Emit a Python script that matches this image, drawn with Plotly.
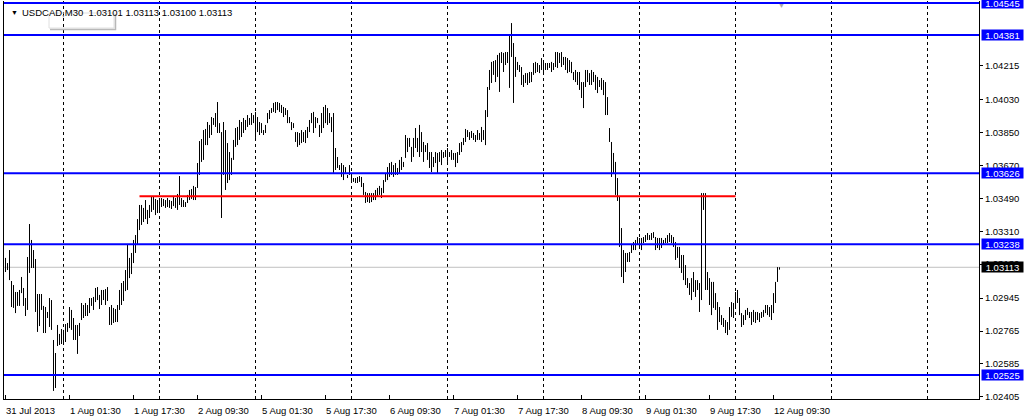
import pandas as pd
import plotly.graph_objects as go

# ---------------- data ----------------
symbol = "USDCAD,M30"
last_ohlc = ["1.03101", "1.03113", "1.03100", "1.03113"]
first_bar = "2013-07-31 09:30"

highs = [
    1.03164, 1.03136, 1.03207, 1.03038, 1.03016, 1.02978, 1.02978, 1.02989, 1.03060, 1.03000,
    1.02945, 1.03169, 1.03349, 1.03262, 1.03207, 1.03158, 1.02967, 1.02967, 1.02967, 1.02902,
    1.02896, 1.02869, 1.02945, 1.02934, 1.02716, 1.02645, 1.02798, 1.02749, 1.02776, 1.02771,
    1.02803, 1.02809, 1.02896, 1.02880, 1.02836, 1.02798, 1.02798, 1.02809, 1.02918, 1.02907,
    1.02918, 1.02907, 1.02945, 1.02945, 1.02951, 1.03000, 1.03005, 1.02962, 1.02989, 1.02989,
    1.02994, 1.03005, 1.02896, 1.02907, 1.02891, 1.02885, 1.02907, 1.02989, 1.03027, 1.03038,
    1.03098, 1.03235, 1.03164, 1.03191, 1.03262, 1.03289, 1.03376, 1.03453, 1.03453, 1.03437,
    1.03480, 1.03426, 1.03453, 1.03497, 1.03497, 1.03486, 1.03480, 1.03475, 1.03491, 1.03486,
    1.03480, 1.03491, 1.03480, 1.03475, 1.03497, 1.03491, 1.03513, 1.03611, 1.03491, 1.03480,
    1.03469, 1.03508, 1.03535, 1.03540, 1.03557, 1.03551, 1.03682, 1.03802, 1.03813, 1.03862,
    1.03868, 1.03906, 1.03890, 1.03933, 1.03928, 1.03955, 1.04015, 1.03900, 1.03851, 1.03906,
    1.03862, 1.03791, 1.03742, 1.03710, 1.03808, 1.03873, 1.03879, 1.03917, 1.03906, 1.03928,
    1.03917, 1.03944, 1.03928, 1.03955, 1.03944, 1.03961, 1.03933, 1.03906, 1.03900, 1.03862,
    1.03890, 1.03955, 1.03971, 1.03982, 1.04010, 1.04015, 1.04015, 1.04010, 1.03999, 1.03988,
    1.03982, 1.03971, 1.03933, 1.03906, 1.03900, 1.03851, 1.03851, 1.03846, 1.03862, 1.03851,
    1.03862, 1.03879, 1.03917, 1.03955, 1.03961, 1.03933, 1.03928, 1.03890, 1.03955, 1.03988,
    1.03999, 1.03982, 1.03955, 1.03933, 1.03955, 1.03764, 1.03715, 1.03671, 1.03682, 1.03671,
    1.03660, 1.03617, 1.03671, 1.03617, 1.03600, 1.03600, 1.03606, 1.03611, 1.03606, 1.03573,
    1.03524, 1.03518, 1.03518, 1.03518, 1.03518, 1.03535, 1.03546, 1.03557, 1.03546, 1.03589,
    1.03628, 1.03660, 1.03682, 1.03688, 1.03671, 1.03682, 1.03655, 1.03699, 1.03715, 1.03688,
    1.03835, 1.03819, 1.03819, 1.03770, 1.03819, 1.03873, 1.03819, 1.03890, 1.03851, 1.03797,
    1.03780, 1.03791, 1.03742, 1.03742, 1.03715, 1.03742, 1.03737, 1.03742, 1.03753, 1.03742,
    1.03753, 1.03764, 1.03742, 1.03753, 1.03737, 1.03737, 1.03742, 1.03791, 1.03797, 1.03819,
    1.03868, 1.03862, 1.03851, 1.03857, 1.03846, 1.03835, 1.03862, 1.03846, 1.03879, 1.03862,
    1.03971, 1.04097, 1.04190, 1.04234, 1.04239, 1.04244, 1.04272, 1.04283, 1.04288, 1.04283,
    1.04288, 1.04288, 1.04381, 1.04446, 1.04337, 1.04261, 1.04234, 1.04217, 1.04206, 1.04163,
    1.04173, 1.04173, 1.04179, 1.04179, 1.04228, 1.04234, 1.04228, 1.04217, 1.04255, 1.04244,
    1.04228, 1.04228, 1.04228, 1.04234, 1.04228, 1.04288, 1.04288, 1.04283, 1.04288, 1.04261,
    1.04261, 1.04255, 1.04244, 1.04234, 1.04179, 1.04190, 1.04179, 1.04179, 1.04124, 1.04124,
    1.04190, 1.04190, 1.04173, 1.04190, 1.04179, 1.04163, 1.04152, 1.04135, 1.04146, 1.04135,
    1.04124, 1.04042, 1.03873, 1.03797, 1.03737, 1.03688, 1.03600, 1.03497, 1.03327, 1.03207,
    1.03191, 1.03191, 1.03196, 1.03235, 1.03251, 1.03262, 1.03278, 1.03273, 1.03273, 1.03278,
    1.03289, 1.03300, 1.03289, 1.03300, 1.03305, 1.03278, 1.03273, 1.03273, 1.03273, 1.03262,
    1.03273, 1.03289, 1.03300, 1.03289, 1.03278, 1.03251, 1.03224, 1.03224, 1.03180, 1.03180,
    1.03125, 1.03054, 1.03027, 1.03054, 1.03087, 1.03043, 1.03043, 1.03027, 1.03518, 1.03518,
    1.03518, 1.03087, 1.03054, 1.03033, 1.03033, 1.02972, 1.02923, 1.02896, 1.02852, 1.02836,
    1.02825, 1.02814, 1.02896, 1.02923, 1.02918, 1.02978, 1.02989, 1.02945, 1.02863, 1.02852,
    1.02880, 1.02891, 1.02869, 1.02869, 1.02880, 1.02869, 1.02869, 1.02863, 1.02869, 1.02880,
    1.02907, 1.02907, 1.02896, 1.02907, 1.02972, 1.03033, 1.03114, 1.03113,
]

lows = [
    1.03087, 1.03098, 1.03043, 1.02896, 1.02891, 1.02863, 1.02902, 1.02902, 1.02972, 1.02902,
    1.02847, 1.02880, 1.03082, 1.03109, 1.03109, 1.02869, 1.02760, 1.02792, 1.02880, 1.02754,
    1.02754, 1.02836, 1.02787, 1.02771, 1.02438, 1.02454, 1.02683, 1.02689, 1.02694, 1.02689,
    1.02705, 1.02760, 1.02781, 1.02771, 1.02716, 1.02716, 1.02640, 1.02738, 1.02825, 1.02836,
    1.02847, 1.02847, 1.02863, 1.02902, 1.02880, 1.02923, 1.02934, 1.02885, 1.02907, 1.02934,
    1.02907, 1.02929, 1.02798, 1.02798, 1.02809, 1.02814, 1.02814, 1.02880, 1.02907, 1.02929,
    1.02983, 1.02989, 1.03054, 1.03076, 1.03136, 1.03191, 1.03235, 1.03316, 1.03344, 1.03360,
    1.03376, 1.03349, 1.03382, 1.03415, 1.03426, 1.03398, 1.03409, 1.03415, 1.03442, 1.03447,
    1.03437, 1.03442, 1.03437, 1.03431, 1.03447, 1.03437, 1.03426, 1.03453, 1.03442, 1.03442,
    1.03442, 1.03464, 1.03480, 1.03486, 1.03480, 1.03480, 1.03546, 1.03617, 1.03688, 1.03699,
    1.03780, 1.03780, 1.03819, 1.03835, 1.03890, 1.03879, 1.03846, 1.03846, 1.03382, 1.03617,
    1.03535, 1.03573, 1.03589, 1.03617, 1.03699, 1.03770, 1.03780, 1.03808, 1.03824, 1.03846,
    1.03862, 1.03879, 1.03890, 1.03890, 1.03900, 1.03819, 1.03851, 1.03835, 1.03846, 1.03835,
    1.03846, 1.03900, 1.03922, 1.03955, 1.03961, 1.03955, 1.03971, 1.03961, 1.03955, 1.03933,
    1.03944, 1.03900, 1.03900, 1.03862, 1.03873, 1.03797, 1.03770, 1.03780, 1.03791, 1.03797,
    1.03791, 1.03819, 1.03851, 1.03900, 1.03846, 1.03873, 1.03900, 1.03824, 1.03846, 1.03873,
    1.03900, 1.03890, 1.03900, 1.03851, 1.03628, 1.03644, 1.03655, 1.03644, 1.03606, 1.03589,
    1.03628, 1.03600, 1.03617, 1.03589, 1.03579, 1.03573, 1.03573, 1.03579, 1.03551, 1.03508,
    1.03464, 1.03469, 1.03464, 1.03469, 1.03480, 1.03480, 1.03497, 1.03508, 1.03491, 1.03518,
    1.03579, 1.03589, 1.03606, 1.03617, 1.03606, 1.03617, 1.03617, 1.03628, 1.03644, 1.03660,
    1.03710, 1.03742, 1.03770, 1.03688, 1.03715, 1.03764, 1.03742, 1.03715, 1.03742, 1.03688,
    1.03742, 1.03699, 1.03655, 1.03633, 1.03660, 1.03682, 1.03628, 1.03688, 1.03671, 1.03710,
    1.03715, 1.03688, 1.03715, 1.03699, 1.03699, 1.03660, 1.03682, 1.03726, 1.03742, 1.03780,
    1.03797, 1.03824, 1.03808, 1.03819, 1.03808, 1.03797, 1.03808, 1.03808, 1.03797, 1.03808,
    1.03780, 1.03933, 1.04081, 1.04119, 1.04163, 1.04124, 1.04152, 1.04070, 1.04228, 1.04179,
    1.04217, 1.04228, 1.04092, 1.04261, 1.04010, 1.04152, 1.04190, 1.04179, 1.04108, 1.04097,
    1.04119, 1.04108, 1.04119, 1.04124, 1.04163, 1.04173, 1.04179, 1.04173, 1.04190, 1.04179,
    1.04190, 1.04190, 1.04201, 1.04179, 1.04190, 1.04206, 1.04201, 1.04228, 1.04206, 1.04217,
    1.04190, 1.04173, 1.04179, 1.04173, 1.04135, 1.04124, 1.04108, 1.04081, 1.04037, 1.03982,
    1.04097, 1.04124, 1.04108, 1.04108, 1.04124, 1.04081, 1.04064, 1.04097, 1.04081, 1.04053,
    1.03944, 1.03944, 1.03797, 1.03606, 1.03622, 1.03508, 1.03475, 1.03224, 1.03060, 1.03027,
    1.03087, 1.03142, 1.03142, 1.03191, 1.03207, 1.03207, 1.03235, 1.03224, 1.03207, 1.03245,
    1.03251, 1.03262, 1.03262, 1.03262, 1.03273, 1.03207, 1.03218, 1.03207, 1.03218, 1.03235,
    1.03245, 1.03245, 1.03251, 1.03245, 1.03224, 1.03153, 1.03164, 1.03109, 1.03082, 1.03043,
    1.03016, 1.03000, 1.02962, 1.02934, 1.02978, 1.02951, 1.02989, 1.02869, 1.02934, 1.03426,
    1.02989, 1.02989, 1.02907, 1.02852, 1.02891, 1.02880, 1.02771, 1.02814, 1.02798, 1.02787,
    1.02754, 1.02743, 1.02771, 1.02842, 1.02836, 1.02896, 1.02918, 1.02852, 1.02787, 1.02798,
    1.02825, 1.02852, 1.02836, 1.02798, 1.02814, 1.02809, 1.02825, 1.02814, 1.02836, 1.02842,
    1.02863, 1.02852, 1.02842, 1.02825, 1.02863, 1.02918, 1.03033, 1.03100,
]

# horizontal line objects (blue), their price boxes
blue_levels = [1.04556, 1.04381, 1.03626, 1.03238, 1.02525]
blue_texts = ["1.04545", "1.04381", "1.03626", "1.03238", "1.02525"]
# red trend line
red_level = 1.03500
red_from = "2013-08-01 19:00"
red_to = "2013-08-12 00:00"
# bid line
current_price = 1.03113
current_text = "1.03113"
# chart shift marker (time slot where the chart's right shift begins)
shift_time = "2013-08-12 11:00"

# price scale
y_ticks = [1.04215, 1.04030, 1.03850, 1.03670, 1.03490, 1.03310,
           1.03130, 1.02945, 1.02765, 1.02585, 1.02405]
y_min, y_max = 1.023939, 1.045665

# time scale
x_tick_times = ["2013-07-31 09:30", "2013-08-01 01:30", "2013-08-01 17:30",
                "2013-08-02 09:30", "2013-08-05 01:30", "2013-08-05 17:30",
                "2013-08-06 09:30", "2013-08-07 01:30", "2013-08-07 17:30",
                "2013-08-08 09:30", "2013-08-09 01:30", "2013-08-09 17:30",
                "2013-08-12 09:30"]
x_tick_text = ["31 Jul 2013", "1 Aug 01:30", "1 Aug 17:30", "2 Aug 09:30",
               "5 Aug 01:30", "5 Aug 17:30", "6 Aug 09:30", "7 Aug 01:30",
               "7 Aug 17:30", "8 Aug 09:30", "9 Aug 01:30", "9 Aug 17:30",
               "12 Aug 09:30"]

# ---------------- layout constants ----------------
W, H = 1024, 420
ML, MR, MT, MB = 4, 45, 1, 21
PW, PH = W - ML - MR, H - MT - MB
X_LO = -0.75
X_HI = X_LO + PW / 2.0          # 2 px per bar
FONT = "Liberation Sans, Arial, sans-serif"
BLUE, RED = "#0000FF", "#FF0000"

assert len(highs) == len(lows)
n_slots = int(X_HI) + 1
slots = pd.date_range(first_bar, periods=n_slots * 2, freq="30min")
slots = slots[slots.weekday < 5][:n_slots]
slot_pos = {t: i for i, t in enumerate(slots)}


def px2paper_x(px):
    return (px - ML) / PW


def px2paper_y(py):
    return 1 - (py - MT) / PH


# ---------------- bars ----------------
bx, by = [], []
for i, (h, l) in enumerate(zip(highs, lows)):
    bx += [i, i, None]
    by += [l, h, None]

fig = go.Figure()
fig.add_trace(go.Scatter(x=bx, y=by, mode="lines",
                         line=dict(color="black", width=1),
                         hoverinfo="skip", showlegend=False))

shapes = []
# vertical dashed grid at each day start
for i, t in enumerate(slots):
    if t.hour == 0 and t.minute == 0:
        shapes.append(dict(type="line", xref="x", yref="paper", x0=i, x1=i,
                           y0=0, y1=1, layer="below",
                           line=dict(color="black", width=1, dash="3px,3px")))
# bid line
shapes.append(dict(type="line", xref="paper", yref="y", x0=0, x1=1,
                   y0=current_price, y1=current_price, layer="below",
                   line=dict(color="#C0C0C0", width=1)))
# blue horizontal lines
for lv in blue_levels:
    shapes.append(dict(type="line", xref="paper", yref="y", x0=0, x1=1,
                       y0=lv, y1=lv, line=dict(color=BLUE, width=2)))
# red trend line
shapes.append(dict(type="line", xref="x", yref="y",
                   x0=slot_pos[pd.Timestamp(red_from)],
                   x1=slot_pos[pd.Timestamp(red_to)],
                   y0=red_level, y1=red_level, line=dict(color=RED, width=2)))
# faint tooltip remnant box with a soft shadow on right/bottom
shapes.append(dict(type="rect", xref="paper", yref="paper",
                   x0=px2paper_x(49), x1=px2paper_x(114),
                   y0=px2paper_y(28), y1=px2paper_y(13),
                   line=dict(color="#E0E0E0", width=1)))
shapes.append(dict(type="path", xref="paper", yref="paper",
                   path="M %f %f L %f %f L %f %f" % (
                       px2paper_x(115.5), px2paper_y(14),
                       px2paper_x(115.5), px2paper_y(29.5),
                       px2paper_x(50), px2paper_y(29.5)),
                   line=dict(color="#B8B8B8", width=1.5)))

annotations = []
# top-left symbol info
annotations.append(dict(xref="paper", yref="paper", x=px2paper_x(9),
                        y=px2paper_y(12.5), xanchor="left", yanchor="middle",
                        text="\u25BC", showarrow=False,
                        font=dict(family=FONT, size=7, color="black")))
annotations.append(dict(xref="paper", yref="paper", x=px2paper_x(20),
                        y=px2paper_y(12.5), xanchor="left", yanchor="middle",
                        text=symbol + "\u00a0\u00a0" + " ".join(last_ohlc),
                        showarrow=False,
                        font=dict(family=FONT, size=9.5, color="black")))
# chart shift marker at the top
annotations.append(dict(xref="x", yref="paper",
                        x=slot_pos[pd.Timestamp(shift_time)] + 1, y=1,
                        xanchor="center", yanchor="top", yshift=1,
                        text="\u25BC", showarrow=False,
                        font=dict(family=FONT, size=7, color="#A8A8A8")))
# time labels (left aligned at their tick)
x_tick_pos = [slot_pos[pd.Timestamp(t)] for t in x_tick_times]
for p, txt in zip(x_tick_pos, x_tick_text):
    annotations.append(dict(xref="x", yref="paper", x=p, y=0,
                            xanchor="left", yanchor="top", xshift=-2,
                            yshift=-4, text=txt, showarrow=False,
                            font=dict(family=FONT, size=9.5, color="black")))
# price boxes
for lv, txt in zip(blue_levels, blue_texts):
    annotations.append(dict(xref="paper", yref="y", x=1, y=lv,
                            xanchor="left", yanchor="middle", xshift=2,
                            text=txt, showarrow=False, bgcolor=BLUE,
                            width=41, height=10, borderpad=0,
                            font=dict(family=FONT, size=9.5, color="white")))
annotations.append(dict(xref="paper", yref="y", x=1, y=current_price,
                        xanchor="left", yanchor="middle", xshift=2,
                        text=current_text, showarrow=False, bgcolor="black",
                        width=41, height=10, borderpad=0,
                        font=dict(family=FONT, size=9.5, color="white")))

fig.update_layout(
    width=W, height=H,
    margin=dict(l=ML, r=MR, t=MT, b=MB, pad=0),
    paper_bgcolor="white", plot_bgcolor="white",
    showlegend=False,
    shapes=shapes, annotations=annotations,
    xaxis=dict(range=[X_LO, X_HI], showgrid=False, zeroline=False,
               showline=True, linecolor="black", linewidth=1,
               ticks="inside", ticklen=4, tickcolor="black",
               tickvals=x_tick_pos, showticklabels=False, fixedrange=True),
    yaxis=dict(range=[y_min, y_max], side="right", showgrid=False,
               zeroline=False, showline=True, mirror=True,
               linecolor="black", linewidth=1, ticks="outside", ticklen=3,
               tickcolor="black", tickvals=y_ticks,
               ticktext=["%.5f" % v for v in y_ticks],
               tickfont=dict(family=FONT, size=9.5, color="black"),
               fixedrange=True),
)

fig.write_html("out.html", config={"displayModeBar": False},
               post_script="document.body.style.margin='0';"
                           "document.body.style.padding='0';"
                           "document.documentElement.style.overflow='hidden';")
